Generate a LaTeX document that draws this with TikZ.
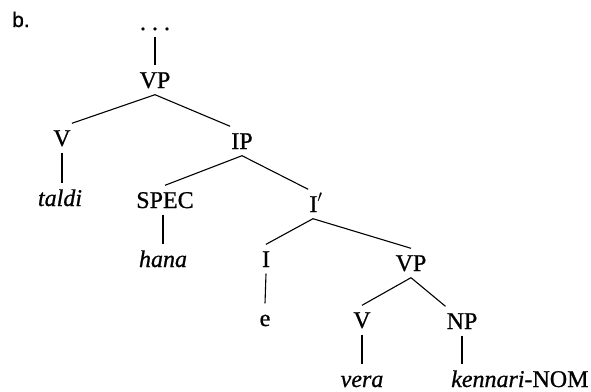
\documentclass[tikz,border=0pt]{standalone}
\usepackage{fontspec}
\setmainfont{Liberation Serif}[FakeBold=0.8]
\newfontfamily\labelfont{Liberation Sans}[FakeBold=0.8]
\begin{document}
\begin{tikzpicture}[x=1pt,y=-1pt,
  lab/.style={anchor=base, inner xsep=1pt, inner ysep=6.5pt, text height=16pt, text depth=0pt,
    font=\fontsize{24}{28}\selectfont},
  edge/.style={line width=1.1pt}]
\useasboundingbox (0,0) rectangle (591,391);
\node[anchor=base west, inner sep=0pt, font=\labelfont\fontsize{21}{24}\selectfont] (blab) at (12,27) {b.};
\node[lab] (dots) at (155,30) {.\ .\ .};
\node[lab] (vp1) at (155,88) {VP};
\node[lab] (v1) at (62,146) {V};
\node[lab] (ip) at (242,149) {IP};
\node[lab] (taldi) at (60,206) {\textit{taldi}};
\node[lab] (spec) at (165,208) {SPEC};
\node[lab] (hana) at (163,267) {\textit{hana}};
\node[lab] (ibar) at (316,212) {I$'$};
\node[lab] (i) at (266,267) {I};
\node[lab] (vp2) at (411,271) {VP};
\node[lab] (e) at (265,326) {e};
\node[lab] (v2) at (362,328) {V};
\node[lab] (np) at (462,329) {NP};
\node[lab] (vera) at (362,387) {\textit{vera}};
\node[lab, anchor=base west, inner xsep=0pt] (kn) at (451,387) {\textit{kennari}-NOM};
\draw[edge] (dots.south) -- (vp1.north);
\draw[edge] (vp1.south) -- (v1.north east);
\draw[edge] (vp1.south) -- (ip.north west);
\draw[edge] (v1.south) -- (v1.south |- taldi.north);
\draw[edge] (ip.south) -- (spec.north);
\draw[edge] (ip.south) -- (ibar.north west);
\draw[edge] (hana.north |- spec.south) -- (hana.north);
\draw[edge] ([xshift=-3pt]ibar.south) -- (i.north);
\draw[edge] ([xshift=-3pt]ibar.south) -- (vp2.north);
\draw[edge] (i.south) -- (e.north);
\draw[edge] (vp2.south) -- (v2.north);
\draw[edge] (vp2.south) -- (np.north west);
\draw[edge] (v2.south) -- (vera.north);
\draw[edge] (np.south) -- (np.south |- kn.north);
\end{tikzpicture}
\end{document}
